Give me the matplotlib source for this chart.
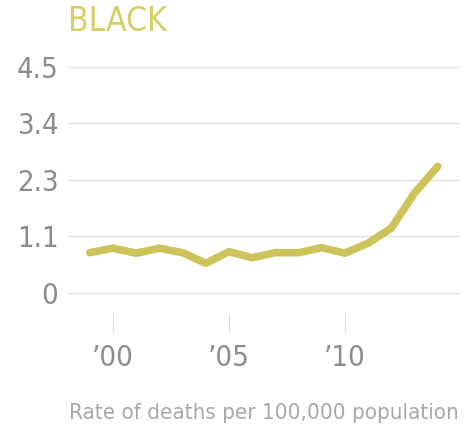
import matplotlib
matplotlib.use('Agg')
import matplotlib.pyplot as plt

# annual rate of deaths per 100,000 population
years = [1999, 2000, 2001, 2002, 2003, 2004, 2005, 2006, 2007,
         2008, 2009, 2010, 2011, 2012, 2013, 2014]
rates = [0.80, 0.89, 0.79, 0.89, 0.80, 0.59, 0.82, 0.70, 0.80,
         0.80, 0.90, 0.79, 0.99, 1.29, 1.99, 2.52]

ytick_vals = [0, 1.125, 2.25, 3.375, 4.5]
ytick_labels = ['0', '1.1', '2.3', '3.4', '4.5']
xtick_vals = [2000, 2005, 2010]
xtick_labels = ["\u201900", "\u201905", "\u201910"]

line_color = '#cdc35a'
text_gray = '#8c8c8c'
narrow = dict(family='DejaVu Sans', fontstretch='condensed')

fig = plt.figure(figsize=(4.66, 4.33), dpi=100)
# axes box in figure pixels: left 68, right 460, top 67, bottom 333
ax = fig.add_axes([68 / 466, 1 - 333 / 433, 392 / 466, 266 / 433])

ax.plot(years, rates, color=line_color, linewidth=5.5, solid_capstyle='round',
        solid_joinstyle='round', zorder=3)

ax.set_xlim(1998.06, 2014.96)
ax.set_ylim(-0.8, 4.5)

ax.set_yticks(ytick_vals)
ax.set_yticklabels(ytick_labels, fontsize=21, color=text_gray, **narrow)
ax.set_xticks(xtick_vals)
ax.set_xticklabels(xtick_labels, fontsize=21, color=text_gray, **narrow)

ax.tick_params(axis='y', length=0, pad=7)
ax.tick_params(axis='x', direction='in', length=14.4, width=0.8,
               color='#dddddd', pad=8)

ax.yaxis.grid(True, color='#e2e2e2', linewidth=1)
ax.set_axisbelow(True)
for side in ax.spines.values():
    side.set_visible(False)

fig.text(68 / 466, 1 - 5 / 433, 'BLACK', fontsize=24, color='#d6cf66',
         va='top', ha='left', **narrow)
fig.text(69 / 466, 1 - 423 / 433, 'Rate of deaths per 100,000 population',
         fontsize=16, color='#a8a8a8', va='bottom', ha='left', **narrow)

plt.savefig('out.png', dpi=100)
